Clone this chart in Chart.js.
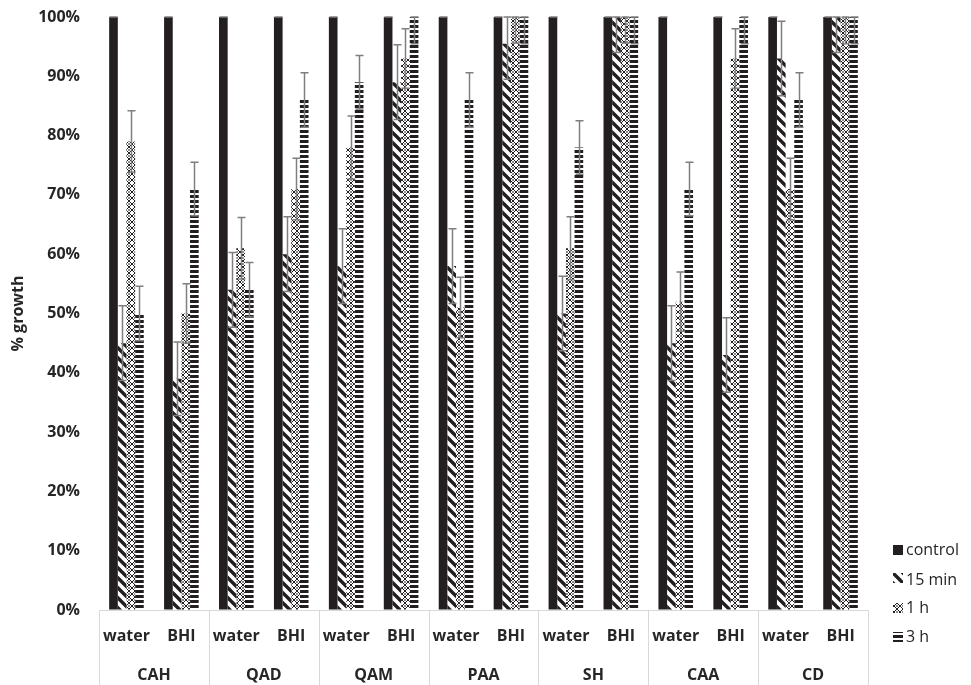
<!DOCTYPE html>
<html>
<head>
<meta charset="utf-8">
<title>% growth</title>
<script src="https://cdn.jsdelivr.net/npm/chart.js@4/dist/chart.umd.min.js"></script>
<style>
    html, body { margin: 0; padding: 0; background: #ffffff; }
    #wrap { width: 971px; height: 685px; }
</style>
</head>
<body>
<div id="wrap"><canvas id="growthChart" width="971" height="685"></canvas></div>
<script>
// Du lieu bieu do
var subLabels = ['water', 'BHI', 'water', 'BHI', 'water', 'BHI', 'water', 'BHI', 'water', 'BHI', 'water', 'BHI', 'water', 'BHI'];
var groupLabels = ['CAH', 'QAD', 'QAM', 'PAA', 'SH', 'CAA', 'CD'];
var yTicks = [0, 10, 20, 30, 40, 50, 60, 70, 80, 90, 100];

var controlValues = [100, 100, 100, 100, 100, 100, 100, 100, 100, 100, 100, 100, 100, 100];
var controlErr = [0, 0, 0, 0, 0, 0, 0, 0, 0, 0, 0, 0, 0, 0];
var min15Values = [45, 39, 54, 60, 58, 89, 58, 95.5, 50, 100, 45, 43, 93, 100];
var min15Err = [6.3, 6.2, 6.3, 6.3, 6.3, 6.3, 6.3, 6, 6.3, 6, 6.3, 6.3, 6.3, 6];
var h1Values = [79, 50, 61, 71, 78, 93, 51, 100, 61, 100, 52, 93, 71, 100];
var h1Err = [5.2, 5, 5.2, 5.2, 5.3, 5, 5.1, 4.4, 5.3, 4.4, 5, 5, 5.2, 4.5];
var h3Values = [50, 71, 54, 86, 89, 100, 86, 100, 78, 100, 71, 100, 86, 100];
var h3Err = [4.6, 4.5, 4.6, 4.6, 4.5, 4.5, 4.6, 4.5, 4.5, 4.5, 4.5, 4.5, 4.6, 4.5];

var seriesNames = ['control', '15 min', '1 h', '3 h'];

var INK = '#231f20';
var TEXT = '#262626';
var LINE = '#d9d9d9';
var FONT = "'Open Sans', 'DejaVu Sans', sans-serif";

// Tao hoa van cho cot
function makePattern(size, drawFn) {
    var c = document.createElement('canvas');
    c.width = size;
    c.height = size;
    var g = c.getContext('2d');
    g.fillStyle = '#ffffff';
    g.fillRect(0, 0, size, size);
    drawFn(g, size);
    return g.createPattern(c, 'repeat');
}

var diagPattern = makePattern(10, function(g, s) {
    g.strokeStyle = INK;
    g.lineWidth = 3.4;
    g.beginPath();
    g.moveTo(-2, -2); g.lineTo(s + 2, s + 2);
    g.moveTo(-2 - s, -2); g.lineTo(2, s + 2);
    g.moveTo(s - 2, -2); g.lineTo(2 * s + 2, s + 2);
    g.stroke();
});

// luoi hinh thoi cho 1 h
var crossPattern = makePattern(6, function(g, s) {
    g.fillStyle = INK;
    for (var i = 0; i < s; i++) {
        g.fillRect(i, i, 1, 1);
        g.fillRect(s - 1 - i, i, 1, 1);
    }
    g.fillStyle = '#8a8a8a';
    g.fillRect(2, 0, 2, 1);
    g.fillRect(2, 5, 2, 1);
});

var stripePattern = makePattern(5, function(g, s) {
    g.fillStyle = INK;
    g.fillRect(0, 0, s, 3);
});

var fills = [INK, diagPattern, crossPattern, stripePattern];
var allValues = [controlValues, min15Values, h1Values, h3Values];
var allErrors = [controlErr, min15Err, h1Err, h3Err];

// Ve thanh sai so
var errorBarPlugin = {
    id: 'errorBars',
    afterDatasetsDraw: function(chart) {
        var ctx = chart.ctx;
        var y = chart.scales.y;
        var area = chart.chartArea;
        ctx.save();
        ctx.beginPath();
        ctx.rect(area.left, area.top - 1, area.right - area.left, area.bottom - area.top + 1);
        ctx.clip();
        ctx.strokeStyle = '#7f7f7f';
        ctx.lineWidth = 1.5;
        chart.data.datasets.forEach(function(ds, i) {
            var meta = chart.getDatasetMeta(i);
            meta.data.forEach(function(bar, j) {
                var v = allValues[i][j];
                var e = allErrors[i][j];
                var hi = Math.min(v + e, 100);
                var lo = Math.max(v - e, 0);
                var yHi = y.getPixelForValue(hi);
                var yLo = y.getPixelForValue(lo);
                var x = Math.round(bar.x) + 0.5;
                ctx.beginPath();
                ctx.moveTo(x, yHi);
                ctx.lineTo(x, yLo);
                ctx.moveTo(x - 4, yHi);
                ctx.lineTo(x + 4, yHi);
                ctx.moveTo(x - 4, yLo);
                ctx.lineTo(x + 4, yLo);
                ctx.stroke();
            });
        });
        ctx.restore();
    }
};

// Ve nhan nhom va khung truc x
var groupAxisPlugin = {
    id: 'groupAxis',
    afterDraw: function(chart) {
        var ctx = chart.ctx;
        var x = chart.scales.x;
        var area = chart.chartArea;
        var step = x.getPixelForValue(1) - x.getPixelForValue(0);
        ctx.save();
        ctx.strokeStyle = LINE;
        ctx.lineWidth = 1;
        ctx.beginPath();
        ctx.moveTo(area.left, Math.round(area.bottom) + 0.5);
        ctx.lineTo(area.right, Math.round(area.bottom) + 0.5);
        for (var k = 0; k <= groupLabels.length; k++) {
            var px = Math.round(x.getPixelForValue(k * 2) - step / 2) + 0.5;
            ctx.moveTo(px, area.bottom);
            ctx.lineTo(px, chart.height);
        }
        ctx.stroke();

        ctx.fillStyle = TEXT;
        ctx.font = 'bold 16px ' + FONT;
        ctx.textAlign = 'center';
        ctx.textBaseline = 'middle';
        groupLabels.forEach(function(name, k) {
            var cx = (x.getPixelForValue(k * 2) + x.getPixelForValue(k * 2 + 1)) / 2;
            ctx.fillText(name, cx, 675);
        });

        // Chu thich
        var legendY = [550, 580, 608, 637];
        ctx.font = '16px ' + FONT;
        ctx.textAlign = 'left';
        seriesNames.forEach(function(name, i) {
            var top = i === 1 ? 573 : legendY[i] - 5;
            ctx.fillStyle = fills[i];
            ctx.fillRect(893, top, 10, 10);
            ctx.fillStyle = TEXT;
            ctx.fillText(name, 906, legendY[i]);
        });
        ctx.restore();
    }
};

var ctx = document.getElementById('growthChart').getContext('2d');

new Chart(ctx, {
    type: 'bar',
    data: {
        labels: subLabels,
        datasets: seriesNames.map(function(name, i) {
            return {
                label: name,
                data: allValues[i],
                backgroundColor: fills[i],
                borderWidth: 0,
                categoryPercentage: 0.63,
                barPercentage: 1.0
            };
        })
    },
    options: {
        responsive: false,
        animation: false,
        devicePixelRatio: 1,
        layout: {
            padding: { top: 17, right: 103, bottom: 0, left: 0 }
        },
        plugins: {
            legend: { display: false },
            tooltip: { enabled: false }
        },
        scales: {
            x: {
                grid: { display: false, drawTicks: false },
                border: { display: false },
                ticks: {
                    color: TEXT,
                    font: { family: FONT, size: 16, weight: 'bold' },
                    padding: 17,
                    maxRotation: 0,
                    autoSkip: false
                },
                afterFit: function(scale) {
                    scale.height = 75;
                }
            },
            y: {
                min: 0,
                max: 100,
                // vach chia trong suot de day nhan sang trai
                grid: {
                    display: true,
                    drawOnChartArea: false,
                    drawTicks: true,
                    tickLength: 19,
                    color: 'rgba(0,0,0,0)'
                },
                border: { display: false },
                afterBuildTicks: function(scale) {
                    scale.ticks = yTicks.map(function(v) { return { value: v }; });
                },
                ticks: {
                    color: TEXT,
                    font: { family: FONT, size: 16, weight: 'bold' },
                    padding: 0,
                    callback: function(v) { return v + '%'; }
                },
                title: {
                    display: true,
                    text: '% growth',
                    color: TEXT,
                    font: { family: FONT, size: 16, weight: 'bold' },
                    padding: { top: 9, bottom: 0 }
                },
                afterFit: function(scale) {
                    scale.width = 99;
                }
            }
        }
    },
    plugins: [errorBarPlugin, groupAxisPlugin]
});
</script>
</body>
</html>
